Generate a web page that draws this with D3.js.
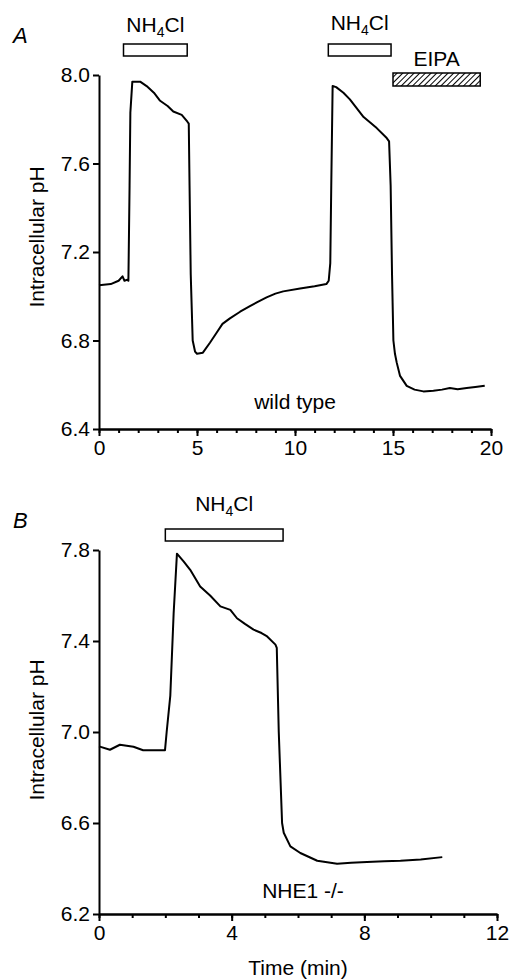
<!DOCTYPE html>
<html>
<head>
<meta charset="utf-8">
<script src="https://cdn.jsdelivr.net/npm/d3@7"></script>
<style>
  body { margin: 0; background: #fff; }
  svg { display: block; font-family: "Liberation Sans", Arial, sans-serif; }
  .axis path, .axis line { stroke: #000; stroke-width: 2px; }
  .axis text { font-size: 21px; fill: #000; font-family: "Liberation Sans", Arial, sans-serif; }
</style>
</head>
<body>
<div id="chart"></div>
<script>
// panel A, wild type
var timeA = [0, 0.6, 1.0, 1.2, 1.3, 1.45, 1.5, 1.56, 1.6, 1.7, 2.1, 2.43, 2.8, 3.1, 3.5, 3.79, 4.22, 4.5, 4.58, 4.62, 4.68, 4.78, 4.9, 5.0, 5.3, 5.66, 6.0, 6.3, 6.68, 7.2, 7.7, 8.1, 8.55, 9.0, 9.4, 10.26, 11.0, 11.6, 11.72, 11.8, 11.85, 11.92, 12.1, 12.47, 12.8, 13.5, 14.17, 14.68, 14.8, 14.88, 14.95, 15.02, 15.1, 15.19, 15.36, 15.7, 16.1, 16.55, 17.06, 17.5, 17.9, 18.3, 18.76, 19.2, 19.68];
var phA = [7.05, 7.055, 7.07, 7.09, 7.07, 7.075, 7.07, 7.5, 7.83, 7.97, 7.97, 7.95, 7.92, 7.885, 7.86, 7.835, 7.82, 7.79, 7.78, 7.5, 7.1, 6.8, 6.75, 6.74, 6.745, 6.79, 6.835, 6.875, 6.9, 6.93, 6.955, 6.975, 6.995, 7.012, 7.022, 7.035, 7.045, 7.055, 7.07, 7.15, 7.5, 7.95, 7.945, 7.92, 7.89, 7.81, 7.76, 7.715, 7.7, 7.5, 7.1, 6.8, 6.74, 6.7, 6.64, 6.595, 6.578, 6.57, 6.573, 6.578, 6.585, 6.58, 6.585, 6.59, 6.596];

// panel B, NHE1 -/-
var timeB = [0, 0.33, 0.63, 1.04, 1.33, 1.99, 2.04, 2.15, 2.25, 2.35, 2.55, 2.75, 3.05, 3.35, 3.66, 3.96, 4.16, 4.4, 4.66, 4.9, 5.07, 5.32, 5.36, 5.42, 5.52, 5.57, 5.77, 6.07, 6.58, 7.18, 7.6, 8.08, 8.6, 9.09, 9.7, 10.35];
var phB = [6.937, 6.922, 6.944, 6.935, 6.92, 6.92, 7.0, 7.16, 7.52, 7.784, 7.75, 7.713, 7.64, 7.6, 7.552, 7.537, 7.5, 7.475, 7.45, 7.435, 7.42, 7.384, 7.37, 7.0, 6.6, 6.557, 6.497, 6.468, 6.434, 6.421, 6.425, 6.429, 6.432, 6.434, 6.44, 6.45];

// bars: [start, end] in min
var barsA = [[1.25, 4.5], [11.7, 14.9]];
var eipaA = [15.0, 19.45];
var barsB = [[2.0, 5.55]];

var ticksXA = [0, 5, 10, 15, 20];
var ticksYA = [6.4, 6.8, 7.2, 7.6, 8.0];
var ticksXB = [0, 4, 8, 12];
var ticksYB = [6.2, 6.6, 7.0, 7.4, 7.8];

var svg = d3.select("#chart").append("svg")
    .attr("width", 509)
    .attr("height", 980);

var defs = svg.append("defs");
var pat = defs.append("pattern")
    .attr("id", "hatch")
    .attr("patternUnits", "userSpaceOnUse")
    .attr("width", 4)
    .attr("height", 4)
    .attr("patternTransform", "rotate(45)");
pat.append("rect").attr("width", 4).attr("height", 4).attr("fill", "#fff");
pat.append("line")
    .attr("x1", 0).attr("y1", 0).attr("x2", 0).attr("y2", 4)
    .attr("stroke", "#000").attr("stroke-width", 2);

function nh4cl(g, x, y) {
    var t = g.append("text")
        .attr("x", x)
        .attr("y", y)
        .attr("text-anchor", "middle")
        .style("font-size", "21px");
    t.append("tspan").text("NH");
    t.append("tspan").attr("dy", 5).style("font-size", "14px").text("4");
    t.append("tspan").attr("dy", -5).text("Cl");
}

function panel(opt) {
    var g = svg.append("g");
    var x = d3.scaleLinear().domain(opt.xDomain).range([99, opt.xRight]);
    var y = d3.scaleLinear().domain(opt.yDomain).range([opt.yBottom, opt.yTop]);

    // minor ticks
    g.append("g")
        .attr("class", "axis")
        .attr("transform", "translate(0," + opt.yBottom + ")")
        .call(d3.axisBottom(x)
            .tickValues(d3.range(opt.xDomain[0], opt.xDomain[1] + 1, 1))
            .tickSize(4)
            .tickSizeOuter(0)
            .tickFormat(""));

    g.append("g")
        .attr("class", "axis")
        .attr("transform", "translate(0," + opt.yBottom + ")")
        .call(d3.axisBottom(x)
            .tickValues(opt.xTicks)
            .tickSize(7)
            .tickSizeOuter(0)
            .tickPadding(4)
            .tickFormat(d3.format("d")));

    g.append("g")
        .attr("class", "axis")
        .attr("transform", "translate(99,0)")
        .call(d3.axisLeft(y)
            .tickValues(opt.yTicks)
            .tickSize(6)
            .tickSizeOuter(0)
            .tickPadding(3)
            .tickFormat(d3.format(".1f")));

    var line = d3.line()
        .x(function (d) { return x(d[0]); })
        .y(function (d) { return y(d[1]); });

    g.append("path")
        .datum(d3.zip(opt.time, opt.ph))
        .attr("d", line)
        .attr("fill", "none")
        .attr("stroke", "#000")
        .attr("stroke-width", 2)
        .attr("stroke-linejoin", "round");

    g.selectAll(".bar")
        .data(opt.bars)
        .enter()
        .append("rect")
        .attr("class", "bar")
        .attr("x", function (d) { return x(d[0]); })
        .attr("width", function (d) { return x(d[1]) - x(d[0]); })
        .attr("y", opt.barY)
        .attr("height", 12)
        .attr("fill", "#fff")
        .attr("stroke", "#000")
        .attr("stroke-width", 1.5);

    opt.bars.forEach(function (d, i) {
        nh4cl(g, (x(d[0]) + x(d[1])) / 2, opt.labelY[i]);
    });

    g.append("text")
        .attr("transform", "translate(" + opt.yLabelX + "," + opt.yLabelY + ") rotate(-90)")
        .attr("text-anchor", "middle")
        .style("font-size", "21px")
        .text("Intracellular pH");

    g.append("text")
        .attr("x", 13)
        .attr("y", opt.letterY)
        .style("font-size", "22px")
        .style("font-style", "italic")
        .text(opt.letter);

    g.append("text")
        .attr("x", opt.noteX)
        .attr("y", opt.noteY)
        .attr("text-anchor", "middle")
        .style("font-size", "21px")
        .text(opt.note);

    return { x: x, y: y, g: g };
}

var a = panel({
    xDomain: [0, 20], yDomain: [6.4, 8.0],
    xRight: 491, yTop: 75, yBottom: 429,
    xTicks: ticksXA, yTicks: ticksYA,
    time: timeA, ph: phA,
    bars: barsA, barY: 44, labelY: [32, 30],
    yLabelX: 44, yLabelY: 237,
    letter: "A", letterY: 43,
    note: "wild type", noteX: 295, noteY: 409
});

a.g.append("rect")
    .attr("x", a.x(eipaA[0]))
    .attr("width", a.x(eipaA[1]) - a.x(eipaA[0]))
    .attr("y", 73)
    .attr("height", 13)
    .attr("fill", "url(#hatch)")
    .attr("stroke", "#000")
    .attr("stroke-width", 1.5);

a.g.append("text")
    .attr("x", (a.x(eipaA[0]) + a.x(eipaA[1])) / 2)
    .attr("y", 66)
    .attr("text-anchor", "middle")
    .style("font-size", "21px")
    .text("EIPA");

var b = panel({
    xDomain: [0, 12], yDomain: [6.2, 7.8],
    xRight: 497, yTop: 550, yBottom: 914,
    xTicks: ticksXB, yTicks: ticksYB,
    time: timeB, ph: phB,
    bars: barsB, barY: 529, labelY: [511],
    yLabelX: 44, yLabelY: 730,
    letter: "B", letterY: 528,
    note: "NHE1 -/-", noteX: 303, noteY: 898
});

b.g.append("text")
    .attr("x", b.x(6))
    .attr("y", 975)
    .attr("text-anchor", "middle")
    .style("font-size", "21px")
    .text("Time (min)");
</script>
</body>
</html>
